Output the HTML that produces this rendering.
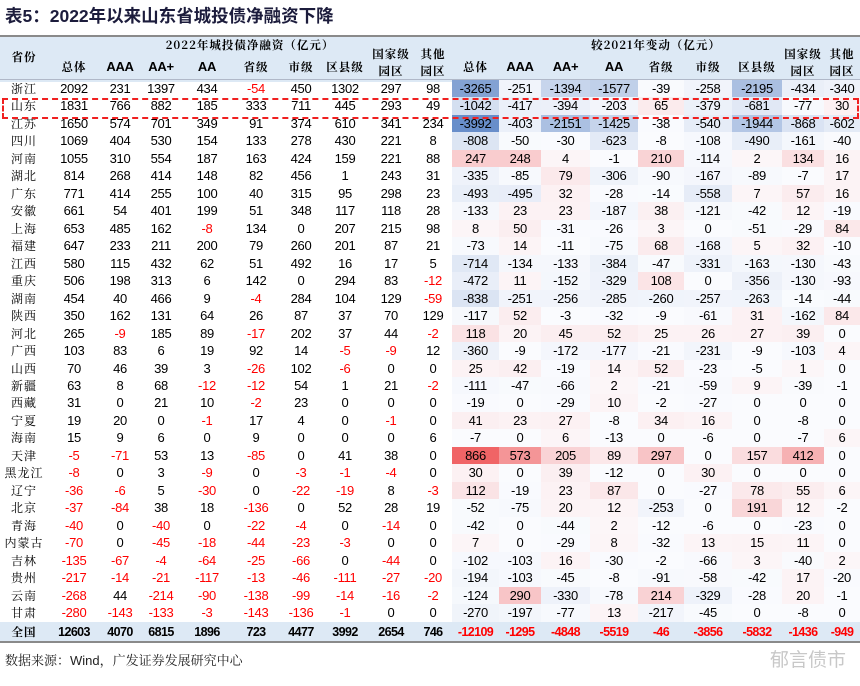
<!DOCTYPE html>
<html><head><meta charset="utf-8">
<style>
body{margin:0;background:#fff;width:860px;height:686px;overflow:hidden;position:relative;font-family:"Liberation Sans","Noto Sans CJK SC",sans-serif;}
.t{position:absolute;left:5px;top:3px;font-size:17.5px;font-weight:bold;color:#1c1c3c;font-family:"Liberation Sans","Noto Sans CJK SC",sans-serif;}
.c{position:absolute;text-align:center;font-size:13px;color:#000;letter-spacing:-0.3px;}
.h{font-family:"Noto Serif CJK SC",serif;font-size:11.5px;font-weight:bold;letter-spacing:1px;}
.p{font-family:"Noto Serif CJK SC",serif;font-size:12px;letter-spacing:1px;}
.src{position:absolute;left:5px;top:650px;font-size:13px;color:#222;font-family:"Liberation Sans","Noto Serif CJK SC",serif;}
</style></head><body>
<div class="t">表5：2022年以来山东省城投债净融资下降</div>
<div style="position:absolute;left:0;top:35px;width:860px;height:45px;background:#dde9f5;border-top:2px solid #8a8a8a;"></div>
<div style="position:absolute;left:0;top:622px;width:860px;height:20px;background:#dde9f5;"></div>
<div style="position:absolute;left:0;top:641px;width:860px;height:2px;background:#8a8a8a;"></div>
<div style="position:absolute;left:0;top:79px;width:860px;height:1px;background:#b0b8c8;"></div>
<div id="g"></div>
<div style="position:absolute;left:2px;top:98px;width:853px;height:17px;border:2px dashed #f02020;"></div>
<div class="src">数据来源：Wind，广发证券发展研究中心</div>
<div style="position:absolute;left:770px;top:645px;font-size:19px;color:#c8c8c8;font-family:'Noto Sans CJK SC',sans-serif;">郁言债市</div>
<script>
(function(){
var W=[48,52,40,42,50,48,42,46,46,38,47,42,49,48,46,48,50,42,36],X=[0];
for(var i=0;i<W.length;i++)X.push(X[i]+W[i]);
var D=`浙江 2092 231 1397 434 -54 450 1302 297 98 -3265 -251 -1394 -1577 -39 -258 -2195 -434 -340
山东 1831 766 882 185 333 711 445 293 49 -1042 -417 -394 -203 65 -379 -681 -77 30
江苏 1650 574 701 349 91 374 610 341 234 -3992 -403 -2151 -1425 -38 -540 -1944 -868 -602
四川 1069 404 530 154 133 278 430 221 8 -808 -50 -30 -623 -8 -108 -490 -161 -40
河南 1055 310 554 187 163 424 159 221 88 247 248 4 -1 210 -114 2 134 16
湖北 814 268 414 148 82 456 1 243 31 -335 -85 79 -306 -90 -167 -89 -7 17
广东 771 414 255 100 40 315 95 298 23 -493 -495 32 -28 -14 -558 7 57 16
安徽 661 54 401 199 51 348 117 118 28 -133 23 23 -187 38 -121 -42 12 -19
上海 653 485 162 -8 134 0 207 215 98 8 50 -31 -26 3 0 -51 -29 84
福建 647 233 211 200 79 260 201 87 21 -73 14 -11 -75 68 -168 5 32 -10
江西 580 115 432 62 51 492 16 17 5 -714 -134 -133 -384 -47 -331 -163 -130 -43
重庆 506 198 313 6 142 0 294 83 -12 -472 11 -152 -329 108 0 -356 -130 -93
湖南 454 40 466 9 -4 284 104 129 -59 -838 -251 -256 -285 -260 -257 -263 -14 -44
陕西 350 162 131 64 26 87 37 70 129 -117 52 -3 -32 -9 -61 31 -162 84
河北 265 -9 185 89 -17 202 37 44 -2 118 20 45 52 25 26 27 39 0
广西 103 83 6 19 92 14 -5 -9 12 -360 -9 -172 -177 -21 -231 -9 -103 4
山西 70 46 39 3 -26 102 -6 0 0 25 42 -19 14 52 -23 -5 1 0
新疆 63 8 68 -12 -12 54 1 21 -2 -111 -47 -66 2 -21 -59 9 -39 -1
西藏 31 0 21 10 -2 23 0 0 0 -19 0 -29 10 -2 -27 0 0 0
宁夏 19 20 0 -1 17 4 0 -1 0 41 23 27 -8 34 16 0 -8 0
海南 15 9 6 0 9 0 0 0 6 -7 0 6 -13 0 -6 0 -7 6
天津 -5 -71 53 13 -85 0 41 38 0 866 573 205 89 297 0 157 412 0
黑龙江 -8 0 3 -9 0 -3 -1 -4 0 30 0 39 -12 0 30 0 0 0
辽宁 -36 -6 5 -30 0 -22 -19 8 -3 112 -19 23 87 0 -27 78 55 6
北京 -37 -84 38 18 -136 0 52 28 19 -52 -75 20 12 -253 0 191 12 -2
青海 -40 0 -40 0 -22 -4 0 -14 0 -42 0 -44 2 -12 -6 0 -23 0
内蒙古 -70 0 -45 -18 -44 -23 -3 0 0 7 0 -29 8 -32 13 15 11 0
吉林 -135 -67 -4 -64 -25 -66 0 -44 0 -102 -103 16 -30 -2 -66 3 -40 2
贵州 -217 -14 -21 -117 -13 -46 -111 -27 -20 -194 -103 -45 -8 -91 -58 -42 17 -20
云南 -268 44 -214 -90 -138 -99 -14 -16 -2 -124 290 -330 -78 214 -329 -28 20 -1
甘肃 -280 -143 -133 -3 -143 -136 -1 0 0 -270 -197 -77 13 -217 -45 0 -8 0
全国 12603 4070 6815 1896 723 4477 3992 2654 746 -12109 -1295 -4848 -5519 -46 -3856 -5832 -1436 -949`.split("\n").map(function(l){return l.split(" ");});
var g=document.getElementById("g"),h="";
function cell(c,yy,ht,txt,cls,st){h+='<div class="c '+(cls||"")+'" style="left:'+X[c]+'px;width:'+W[c]+'px;top:'+yy+'px;height:'+ht+'px;line-height:'+ht+'px;'+(st||"")+'">'+txt+'</div>';}
h+='<div class="c h" style="left:48px;width:404px;top:37px;line-height:16px;">2022年城投债净融资（亿元）</div>';
h+='<div class="c h" style="left:452px;width:408px;top:37px;line-height:16px;">较2021年变动（亿元）</div>';
cell(0,48,18,"省份","h");
var sub=["总体","AAA","AA+","AA","省级","市级","区县级","国家级<br>园区","其他<br>园区"];
for(var s=0;s<2;s++)for(var k=0;k<9;k++){var c=1+s*9+k,t=sub[k];
 if(t.indexOf("<br>")>0)h+='<div class="c h" style="left:'+X[c]+'px;width:'+W[c]+'px;top:46px;line-height:17px;">'+t+'</div>';
 else if(/^A/.test(t))cell(c,58,18,t,"",'font-weight:bold;font-size:13px;');
 else cell(c,58,18,t,"h");}
var MN=-3992,MX=866;
function mix(c1,c2,t){return "rgb("+c1.map(function(x,i){return Math.round(x+(c2[i]-x)*t);}).join(",")+")";}
var RH=17.47;
for(var r=0;r<32;r++){var yy=r<31?80+r*RH:622,ht=r<31?RH:20,tot=r==31;
 cell(0,yy,ht,D[r][0],"p",tot?"font-weight:bold;font-size:11.5px;":"");
 for(var c=1;c<19;c++){var v=+D[r][c],st="";
  if(c<10){if(v<0)st+="color:#ff0000;";}
  else if(!tot){var bg=v<0?mix([250,251,254],[104,142,202],v/MN):(v>0?mix([252,246,248],[240,100,102],v/MX):"rgb(250,251,254)");st+="background:"+bg+";";}
  if(tot){st+="font-weight:bold;font-size:12.5px;letter-spacing:-0.6px;";if(c>=10)st+="color:#ff0000;";}
  cell(c,yy,ht,D[r][c],"",st);}}
g.innerHTML=h;
})();
</script>
</body></html>
